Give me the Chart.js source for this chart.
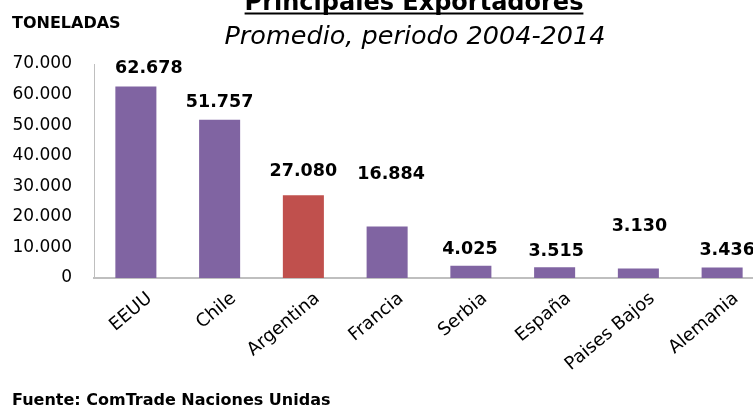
<!DOCTYPE html>
<html>
<head>
<meta charset="utf-8">
<script src="https://cdn.jsdelivr.net/npm/chart.js@4.4.1/dist/chart.umd.min.js"></script>
<style>
  html, body { margin: 0; padding: 0; background: #ffffff; overflow: hidden; width: 753px; height: 405px; }
  canvas { display: block; }
</style>
</head>
<body>
<canvas id="c" width="770" height="405"></canvas>
<script>
// ---- data ----
const categories = ['EEUU', 'Chile', 'Argentina', 'Francia', 'Serbia', 'España', 'Paises Bajos', 'Alemania'];
const tonnes = [62678, 51757, 27080, 16884, 4025, 3515, 3130, 3436];
const yTickValues = [0, 10000, 20000, 30000, 40000, 50000, 60000, 70000];
const titleText = 'Principales Exportadores';
const subtitleText = 'Promedio, periodo 2004-2014';
const unitText = 'TONELADAS';
const sourceText = 'Fuente: ComTrade Naciones Unidas';
const highlight = 'Argentina';

// ---- styles ----
const PURPLE = '#8064A2';
const RED = '#C0504D';
const AXIS = '#BFBFBF';
// label nudges (dx, dy from default spot above bar)
const labelNudge = [[13, 0], [0, 0], [0, -6], [4, -34.5], [-1, 1], [1.5, 1.5], [1, -24.5], [5, 0]];

function fmt(v) {
  return String(Math.round(v)).replace(/\B(?=(\d{3})+(?!\d))/g, '.');
}

const decor = {
  id: 'decor',
  afterDraw(chart) {
    const ctx = chart.ctx;
    ctx.save();
    ctx.fillStyle = '#000';
    // title
    ctx.font = 'bold 24px "DejaVu Sans"';
    ctx.textAlign = 'center';
    ctx.textBaseline = 'alphabetic';
    const tx = 414;
    ctx.fillText(titleText, tx, 10);
    const tw = ctx.measureText(titleText).width;
    ctx.fillRect(tx - tw / 2, 12.5, tw, 2);
    // subtitle
    ctx.font = 'oblique 25.5px "DejaVu Sans"';
    ctx.fillText(subtitleText, 415, 44);
    // unit
    ctx.font = 'bold 16px "DejaVu Sans"';
    ctx.textAlign = 'left';
    ctx.fillText(unitText, 12, 28);
    // source
    ctx.font = 'bold 16px "DejaVu Sans"';
    ctx.fillText(sourceText, 12, 405);
    ctx.restore();
  },
  afterDatasetsDraw(chart) {
    const ctx = chart.ctx;
    const meta = chart.getDatasetMeta(0);
    ctx.save();
    ctx.fillStyle = '#000';
    ctx.font = 'bold 17.5px "DejaVu Sans"';
    ctx.textAlign = 'center';
    ctx.textBaseline = 'middle';
    meta.data.forEach((bar, i) => {
      const n = labelNudge[i] || [0, 0];
      ctx.fillText(fmt(tonnes[i]), bar.x + n[0], bar.y - 17.5 + n[1]);
    });
    ctx.restore();
  }
};

new Chart(document.getElementById('c'), {
  type: 'bar',
  data: {
    labels: categories,
    datasets: [{
      data: tonnes,
      backgroundColor: (c) => categories[c.dataIndex] === highlight ? RED : PURPLE,
      borderWidth: 0,
      categoryPercentage: 1,
      barPercentage: 0.49
    }]
  },
  options: {
    responsive: false,
    animation: false,
    devicePixelRatio: 1,
    layout: { padding: { top: 64, left: 0, right: 6, bottom: 0 } },
    plugins: { legend: { display: false }, tooltip: { enabled: false }, title: { display: false } },
    scales: {
      y: {
        min: 0, max: 70000,
        afterBuildTicks: (s) => { s.ticks = yTickValues.map(v => ({ value: v })); },
        afterFit: (s) => { s.width = 94; },
        grid: { display: false, drawTicks: false },
        border: { display: true, color: AXIS, width: 1 },
        ticks: {
          padding: 22,
          color: '#000',
          font: { family: '"DejaVu Sans"', size: 17 },
          callback: (v) => fmt(v)
        }
      },
      x: {
        afterFit: (s) => { s.height = 127; },
        grid: { display: false, drawTicks: false },
        border: { display: true, color: AXIS, width: 2 },
        ticks: {
          autoSkip: false,
          maxRotation: 40, minRotation: 40,
          padding: 10,
          labelOffset: 14,
          color: '#000',
          font: { family: '"DejaVu Sans"', size: 18 }
        }
      }
    }
  },
  plugins: [decor]
});
</script>
</body>
</html>
